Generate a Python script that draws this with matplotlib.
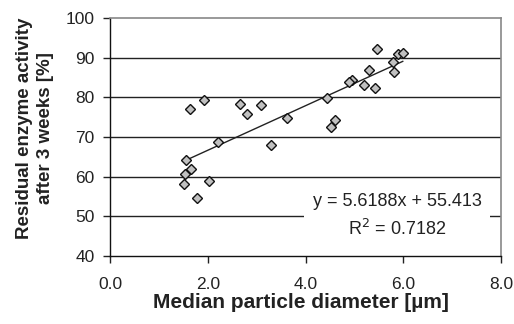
import matplotlib
matplotlib.use("Agg")
import matplotlib.pyplot as plt
import numpy as np

plt.rcParams['font.family'] = ['Liberation Sans', 'DejaVu Sans']

diameter = [1.64, 1.93, 2.66, 2.81, 3.09, 3.62, 2.21, 3.29, 1.55, 4.45,
            5.47, 5.79, 5.89, 5.99, 5.82, 5.29, 4.95, 4.89, 5.19, 5.42,
            4.60, 4.52, 1.66, 1.53, 1.51, 2.02, 1.77]
activity = [77.0, 79.4, 78.4, 75.8, 78.0, 74.8, 68.8, 68.0, 64.2, 79.9,
            92.1, 89.0, 91.0, 91.3, 86.5, 87.0, 84.4, 83.9, 83.2, 82.3,
            74.4, 72.5, 62.0, 60.6, 58.2, 59.0, 54.5]
slope = 5.6188
intercept = 55.413
r2 = 0.7182
xticks = [0.0, 2.0, 4.0, 6.0, 8.0]
yticks = [40, 50, 60, 70, 80, 90, 100]

W, H = 514, 324
fig = plt.figure(figsize=(W / 100, H / 100), dpi=100)
ax = fig.add_axes([110 / W, 1 - 256 / H, 391 / W, 238 / H])

for yv in yticks[1:-1]:
    ax.axhline(yv, color='#222222', lw=1.0, zorder=1)

xs = np.array([min(diameter), max(diameter)])
ax.plot(xs, slope * xs + intercept, color='#222222', lw=1.0, zorder=2)
ax.plot(diameter, activity, linestyle='none', marker='D', ms=5.5,
        mfc='#c0c0c0', mec='#111111', mew=1.0, zorder=3)

ax.set_xlim(0, 8)
ax.set_ylim(40, 100)
ax.set_xticks(xticks)
ax.set_xticklabels([f"{v:.1f}" for v in xticks])
ax.set_yticks(yticks)
ax.set_yticklabels([str(v) for v in yticks])
ax.tick_params(direction='out', length=5, width=1, labelsize=12.5, colors='#222222',
               labelcolor='#222222')
ax.tick_params(axis='x', pad=10)
ax.tick_params(axis='y', pad=6)

for s in ['top', 'right']:
    ax.spines[s].set_color('#888888')
    ax.spines[s].set_linewidth(1.2)
for s in ['left', 'bottom']:
    ax.spines[s].set_color('#111111')
    ax.spines[s].set_linewidth(1.0)

ax.text((397 - 110) / 391, (256 - 216) / 238,
        f"y = {slope}x + {intercept}\nR$^2$ = {r2}",
        transform=ax.transAxes, ha='center', va='center', fontsize=13,
        color='#222222', linespacing=1.6, zorder=4,
        bbox=dict(boxstyle='square,pad=0.45', fc='white', ec='none'))

fig.text(301 / W, 1 - 302 / H, "Median particle diameter [µm]", fontsize=15,
         fontweight='bold', color='#222222', ha='center', va='center')
fig.text(35 / W, 1 - 128 / H, "Residual enzyme activity\nafter 3 weeks [%]",
         fontsize=13.5, fontweight='bold', color='#222222', ha='center',
         va='center', rotation=90, linespacing=1.25, multialignment='center')

fig.savefig("out.png", dpi=100)
